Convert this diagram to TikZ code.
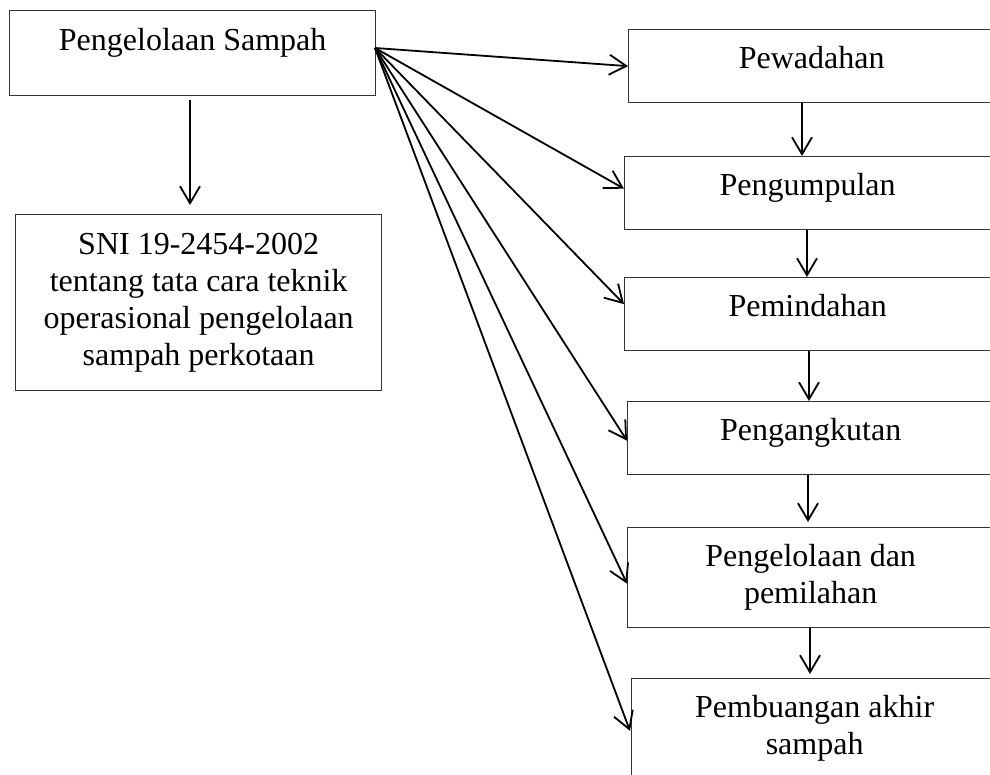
\documentclass[tikz,border=0pt]{standalone}
\usepackage{fontspec}
\setmainfont{Liberation Serif}
\usetikzlibrary{arrows.meta,calc}
\begin{document}
\begin{tikzpicture}[x=1pt,y=-1pt,
  box/.style={draw=black!80, line width=1.3pt, inner sep=0pt, minimum width=366pt,
    anchor=north west, font=\fontsize{32}{37}\selectfont, align=center},
  onebox/.style={box, minimum height=73pt, text height=22pt, text depth=17pt},
  arr/.style={line width=1.8pt, -{Straight Barb[length=17pt,width=20pt,line width=1.8pt]}}
]
\useasboundingbox (0,0) rectangle (990,775);
\clip (0,0) rectangle (990,775);

\node[box, minimum height=85pt, text height=22pt, text depth=27pt] (ps) at (9,10) {Pengelolaan Sampah};
\node[box, minimum height=176pt] (sni) at (15,214) {SNI 19-2454-2002\\tentang tata cara teknik\\operasional pengelolaan\\sampah perkotaan};

\node[onebox] (pw) at (628,29) {Pewadahan};
\node[onebox] (pg) at (624,156) {Pengumpulan};
\node[onebox] (pm) at (624,277) {Pemindahan};
\node[onebox] (pa) at (627,401) {Pengangkutan};
\node[box, minimum height=100pt] (pd) at (627,527) {Pengelolaan dan\\pemilahan};
\node[box, minimum height=100pt] (pb) at (631,678) {Pembuangan akhir\\sampah};

\coordinate (src) at (375,48);
\draw[arr] (src) -- (pw.west);
\draw[arr] (src) -- ([yshift=4.5pt]pg.west);
\draw[arr] (src) -- ([yshift=10pt]pm.west);
\draw[arr] (src) -- ([yshift=-2.5pt]pa.west);
\draw[arr] (src) -- ([yshift=-6pt]pd.west);
\draw[arr, shorten >=3pt] (src) -- ([yshift=-5pt]pb.west);

\draw[arr, shorten <=4pt, shorten >=9pt] (190,0 |- ps.south) -- (190,0 |- sni.north);
\draw[arr] (802,0 |- pw.south) -- (802,0 |- pg.north);
\draw[arr] (807,0 |- pg.south) -- (807,0 |- pm.north);
\draw[arr] (809,0 |- pm.south) -- (809,0 |- pa.north);
\draw[arr, shorten >=5pt] (808,0 |- pa.south) -- (808,0 |- pd.north);
\draw[arr, shorten >=4pt] (810,0 |- pd.south) -- (810,0 |- pb.north);
\end{tikzpicture}
\end{document}
